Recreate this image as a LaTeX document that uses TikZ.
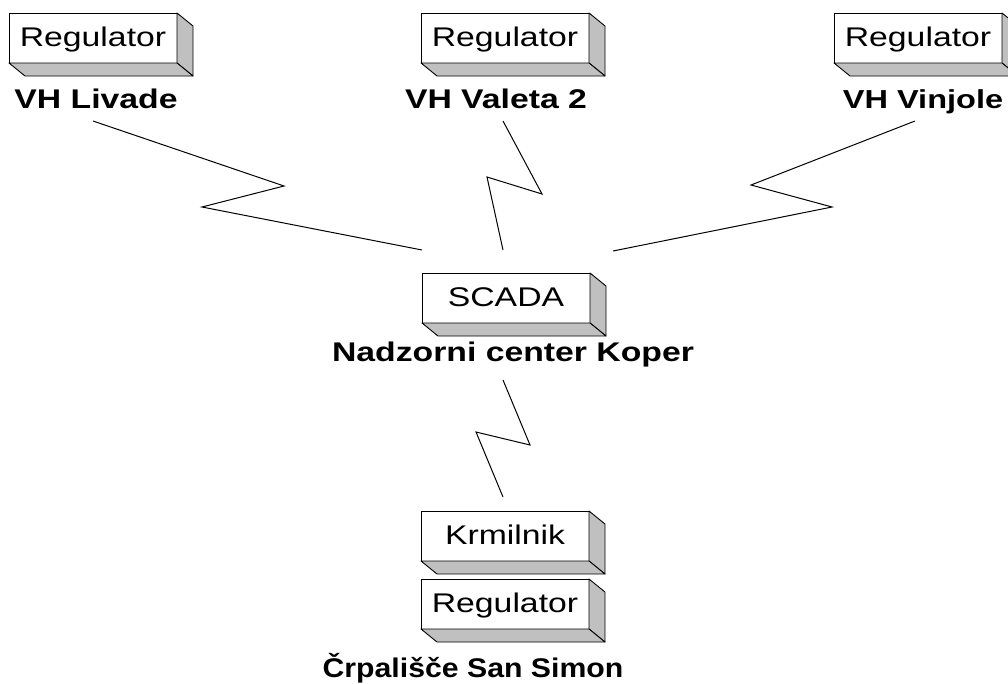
\documentclass[tikz,border=0pt]{standalone}
\usepackage{fontspec}
\setmainfont{Liberation Sans}
\usepackage{graphicx}
\usetikzlibrary{calc}
\definecolor{slabSide}{HTML}{C0C0C0}
\newcommand{\widetext}[1]{\scalebox{1.25}[1]{#1}}
\tikzset{
  slab/.style={
    rectangle, draw=black, line width=0.9pt, fill=white,
    minimum width=168pt, minimum height=50pt, inner sep=0pt, outer sep=0pt,
    text height=20pt, text depth=3pt, font=\fontsize{27}{32}\selectfont,
  },
  site/.style={
    inner sep=0pt, anchor=base, font=\fontsize{27}{32}\selectfont\bfseries,
  },
  sides/.style={
    draw=black, line width=0.9pt, fill=slabSide, line join=round,
  },
  radio/.style={
    draw=black, line width=1pt,
  },
}
% grey depth faces of a slab node
\newcommand{\slabsides}[1]{%
  \filldraw[sides] (#1.north east) -- ++(16,13)
    -- ($(#1.south east)+(16,13)$) -- (#1.south east) -- cycle;
  \filldraw[sides] (#1.south west) -- ++(16,13)
    -- ($(#1.south east)+(16,13)$) -- (#1.south east) -- cycle;
}

\begin{document}
\begin{tikzpicture}[x=1pt, y=-1pt]
\useasboundingbox (0,0) rectangle (1008,683);

% stations
\node[slab] (regLiv) at (93,38) {\widetext{Regulator}};
\slabsides{regLiv}
\node[site] (livade) at (96,108) {\widetext{VH Livade}};

\node[slab] (regVal) at (505,38) {\widetext{Regulator}};
\slabsides{regVal}
\node[site] (valeta) at (496,108) {\widetext{VH Valeta 2}};

\node[slab] (regVin) at (918,38) {\widetext{Regulator}};
\slabsides{regVin}
\node[site, font=\fontsize{26}{32}\selectfont\bfseries] (vinjole) at (923,108) {\widetext{VH Vinjole}};

% control centre
\node[slab] (scada) at (506,298) {\widetext{SCADA}};
\slabsides{scada}
\node[site] (koper) at (513,361) {\widetext{Nadzorni center Koper}};

% pumping station
\node[slab] (krm) at (505,536) {\widetext{Krmilnik}};
\slabsides{krm}
\node[slab] (regSim) at (505,604) {\widetext{Regulator}};
\slabsides{regSim}
\node[site] (simon) at (473,677) {\scalebox{1.12}[1]{Črpališče San Simon}};

% radio link ends
\coordinate (livA) at (93,121);
\coordinate (valA) at (503,121);
\coordinate (vinA) at (915,121);
\coordinate (scL) at (422,250);
\coordinate (scM) at (503,250);
\coordinate (scR) at (613,251);
\coordinate (scB) at (503,380);
\coordinate (krmT) at (503,497);

\draw[radio] (livA) -- (284,186) -- (202,207) -- (scL);
\draw[radio] (valA) -- (542,194) -- (487,177) -- (scM);
\draw[radio] (vinA) -- (751,185) -- (832,207) -- (scR);
\draw[radio] (scB) -- (530,445) -- (476,432) -- (krmT);

\end{tikzpicture}
\end{document}
